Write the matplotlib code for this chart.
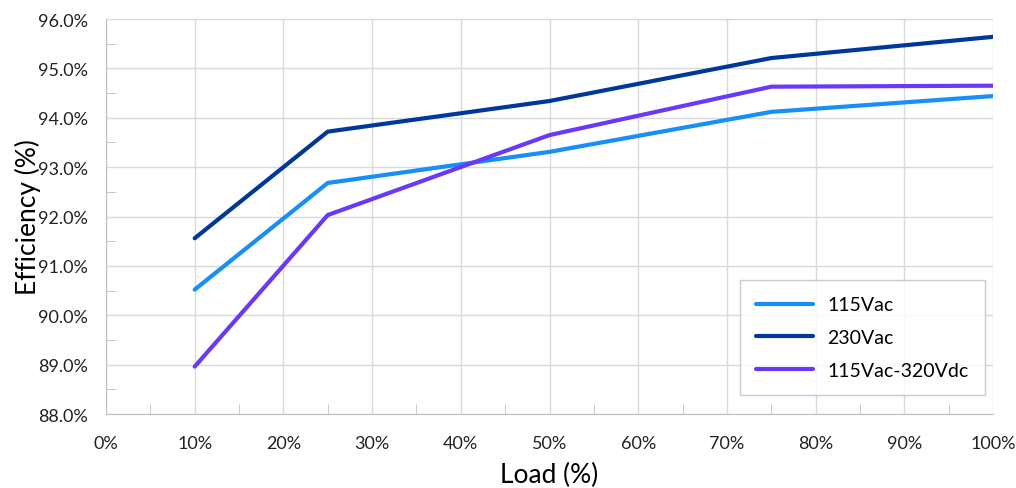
import matplotlib.pyplot as plt
from matplotlib.ticker import MultipleLocator, FuncFormatter

# data
load = [10, 25, 50, 75, 100]
eff_115vac = [90.52, 92.68, 93.31, 94.12, 94.44]
eff_230vac = [91.56, 93.72, 94.34, 95.21, 95.64]
eff_115vac_320vdc = [88.96, 92.03, 93.65, 94.63, 94.65]

plt.rcParams['font.family'] = ['Lato', 'DejaVu Sans']

fig = plt.figure(figsize=(10.16, 4.89), dpi=100)
ax = fig.add_axes([0.1043, 0.1513, 0.8731, 0.8077])

ax.plot(load, eff_115vac, color='#178EF8', lw=3, label='115Vac', solid_capstyle='round')
ax.plot(load, eff_230vac, color='#00379A', lw=3, label='230Vac', solid_capstyle='round')
ax.plot(load, eff_115vac_320vdc, color='#6A38FA', lw=3, label='115Vac-320Vdc', solid_capstyle='round')

ax.set_xlim(0, 100)
ax.set_ylim(88, 96)
ax.xaxis.set_major_locator(MultipleLocator(10))
ax.xaxis.set_minor_locator(MultipleLocator(5))
ax.yaxis.set_major_locator(MultipleLocator(1))
ax.yaxis.set_minor_locator(MultipleLocator(0.5))
ax.xaxis.set_major_formatter(FuncFormatter(lambda v, p: f'{v:.0f}%'))
ax.yaxis.set_major_formatter(FuncFormatter(lambda v, p: f'{v:.1f}%'))

ax.grid(True, which='major', color='#d9d9d9', lw=1)
ax.set_axisbelow(True)
for s in ['top', 'right']:
    ax.spines[s].set_visible(False)
for s in ['left', 'bottom']:
    ax.spines[s].set_color('#bfbfbf')
ax.tick_params(which='major', length=0, labelsize=13, colors='#222222')
ax.tick_params(axis='y', which='major', pad=13)
ax.tick_params(axis='x', which='major', pad=15)
ax.tick_params(which='minor', direction='in', length=7, color='#bfbfbf')

ax.set_xlabel('Load (%)', fontsize=19, labelpad=8)
ax.set_ylabel('Efficiency (%)', fontsize=19, labelpad=-2)

leg = ax.legend(loc='lower right', bbox_to_anchor=(0.991, 0.048), fontsize=14,
                frameon=True, fancybox=False, edgecolor='#bfbfbf',
                handlelength=2.9, borderpad=0.85, labelspacing=0.8, handletextpad=0.75,
                borderaxespad=0)
leg.get_frame().set_linewidth(1)

fig.savefig('out.png', dpi=100)
